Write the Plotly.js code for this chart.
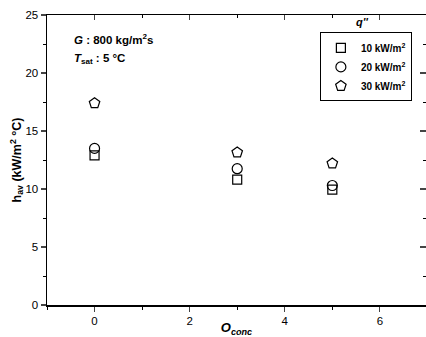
<!DOCTYPE html>
<html>
<head>
<meta charset="utf-8">
<script src="https://cdn.plot.ly/plotly-3.0.1.min.js"></script>
<style>html,body{margin:0;padding:0;background:#fff;}#chart{width:426px;height:337px;}</style>
</head>
<body>
<div id="chart"></div>
<script>
const oConc = [0, 3, 5];
const h10 = [12.9, 10.8, 9.95];
const h20 = [13.5, 11.75, 10.3];
const h30 = [17.4, 13.15, 12.2];
const seriesNames = ['<b>10 kW/m<sup>2</sup></b>', '<b>20 kW/m<sup>2</sup></b>', '<b>30 kW/m<sup>2</sup></b>'];
const symbols = ['square-open', 'circle-open', 'pentagon-open'];
const sizes = [9, 10, 11];
const xTicks = [0, 2, 4, 6];
const yTicks = [0, 5, 10, 15, 20, 25];

const font = 'Liberation Sans, Arial, sans-serif';
const ys = [h10, h20, h30];
const traces = ys.map((y, i) => ({
  x: oConc, y: y, type: 'scatter', mode: 'markers', name: seriesNames[i],
  marker: {symbol: symbols[i], size: sizes[i], color: '#000', line: {color: '#000', width: 1.2}},
  cliponaxis: false
}));
// invisible trace to activate mirror axes
traces.push({x: [0], y: [0], xaxis: 'x2', yaxis: 'y2', mode: 'markers', marker: {opacity: 0}, showlegend: false, hoverinfo: 'skip'});

const layout = {
  width: 426, height: 337,
  margin: {l: 47, r: 0, t: 14.5, b: 32},
  paper_bgcolor: '#fff', plot_bgcolor: '#fff',
  font: {family: font, color: '#000', size: 11},
  showlegend: true,
  xaxis: {
    range: [-1, 6.97], tickvals: xTicks, ticks: 'outside', ticklen: 5, tickwidth: 1.2,
    showline: true, linecolor: '#000', linewidth: 1.5, showgrid: false, zeroline: false,
    minor: {dtick: 1, ticks: 'outside', ticklen: 3, tickwidth: 1, tickcolor: '#000'},
    tickfont: {size: 11.5, family: font},
    title: {text: '<b><i>O</i></b><sub><b><i>conc</i></b></sub>', font: {size: 13, family: font}, standoff: 3}
  },
  yaxis: {
    range: [0, 25], tickvals: yTicks, ticks: 'outside', ticklen: 5, tickwidth: 1.2,
    showline: true, linecolor: '#000', linewidth: 1.5, showgrid: false, zeroline: false,
    minor: {dtick: 2.5, ticks: 'outside', ticklen: 3, tickwidth: 1, tickcolor: '#000'},
    tickfont: {size: 11.5, family: font},
    title: {text: '<b>h<sub>av</sub> (kW/m<sup>2</sup> °C)</b>', font: {size: 12.5, family: font}, standoff: 0}
  },
  xaxis2: {
    overlaying: 'x', side: 'top', range: [-1, 6.97], tickvals: xTicks, showticklabels: false,
    ticks: 'inside', ticklen: 5, tickwidth: 1.2, showline: true, linecolor: '#000', linewidth: 1.5,
    showgrid: false, zeroline: false,
    minor: {dtick: 1, ticks: 'inside', ticklen: 3, tickwidth: 1, tickcolor: '#000'}
  },
  yaxis2: {
    overlaying: 'y', side: 'right', range: [0, 25], tickvals: yTicks, showticklabels: false,
    ticks: 'inside', ticklen: 6, tickwidth: 1.2, showline: false,
    showgrid: false, zeroline: false,
    minor: {dtick: 2.5, ticks: 'inside', ticklen: 3, tickwidth: 1, tickcolor: '#000'}
  },
  legend: {
    x: 0.72, y: 0.94, xanchor: 'left', yanchor: 'top',
    bordercolor: '#000', borderwidth: 1, bgcolor: '#fff',
    font: {size: 10, family: font}, itemwidth: 30, tracegroupgap: 0
  },
  annotations: [
    {xref: 'paper', yref: 'paper', x: 0.066, y: 0.918, xanchor: 'left', yanchor: 'middle', showarrow: false,
     text: '<b><i>G</i> : 800 kg/m<sup>2</sup>s</b>', font: {size: 11.5, family: font}},
    {xref: 'paper', yref: 'paper', x: 0.066, y: 0.848, xanchor: 'left', yanchor: 'middle', showarrow: false,
     text: '<b><i>T</i><sub>sat</sub> : 5 °C</b>', font: {size: 11.5, family: font}},
    {xref: 'paper', yref: 'paper', x: 0.83, y: 0.975, xanchor: 'center', yanchor: 'middle', showarrow: false,
     text: "<b><i>q''</i></b>", font: {size: 11, family: font}}
  ]
};
Plotly.newPlot('chart', traces, layout, {displayModeBar: false, staticPlot: true});
</script>
</body>
</html>
